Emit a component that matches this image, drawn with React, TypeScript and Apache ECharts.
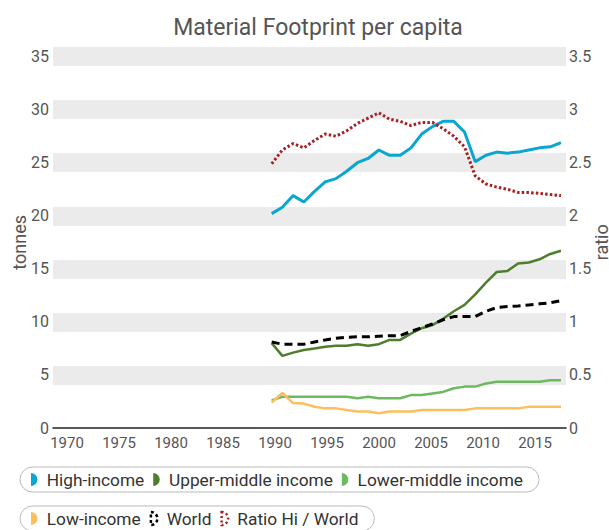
import React, { useEffect, useRef } from 'react';
import * as echarts from 'echarts';

const years = [1990, 1991, 1992, 1993, 1994, 1995, 1996, 1997, 1998, 1999, 2000, 2001, 2002, 2003, 2004, 2005, 2006, 2007, 2008, 2009, 2010, 2011, 2012, 2013, 2014, 2015, 2016, 2017];

const highIncome = [20.2, 20.8, 21.9, 21.3, 22.3, 23.2, 23.5, 24.2, 25.0, 25.4, 26.2, 25.7, 25.7, 26.4, 27.7, 28.4, 28.9, 28.9, 27.9, 25.1, 25.7, 26.0, 25.9, 26.0, 26.2, 26.4, 26.5, 26.9];
const upperMiddle = [8.0, 6.8, 7.1, 7.35, 7.5, 7.65, 7.75, 7.75, 7.9, 7.75, 7.9, 8.3, 8.3, 8.9, 9.4, 9.7, 10.3, 11.0, 11.6, 12.6, 13.7, 14.7, 14.8, 15.5, 15.6, 15.9, 16.4, 16.7];
const lowerMiddle = [2.6, 2.95, 2.95, 2.95, 2.95, 2.95, 2.95, 2.95, 2.8, 2.95, 2.8, 2.8, 2.8, 3.1, 3.1, 3.25, 3.4, 3.75, 3.9, 3.9, 4.2, 4.35, 4.35, 4.35, 4.35, 4.35, 4.5, 4.5];
const lowIncome = [2.4, 3.3, 2.35, 2.3, 2.0, 1.85, 1.85, 1.7, 1.55, 1.55, 1.4, 1.55, 1.55, 1.55, 1.7, 1.7, 1.7, 1.7, 1.7, 1.85, 1.85, 1.85, 1.85, 1.85, 2.0, 2.0, 2.0, 2.0];
const world = [8.1, 7.9, 7.9, 7.9, 8.1, 8.3, 8.45, 8.55, 8.6, 8.6, 8.65, 8.7, 8.7, 9.1, 9.45, 9.8, 10.2, 10.5, 10.5, 10.5, 11.0, 11.35, 11.45, 11.5, 11.6, 11.7, 11.8, 12.0];
const ratioHiWorld = [2.49, 2.62, 2.68, 2.64, 2.71, 2.77, 2.75, 2.8, 2.87, 2.92, 2.97, 2.91, 2.89, 2.85, 2.88, 2.88, 2.82, 2.75, 2.65, 2.375, 2.3, 2.27, 2.25, 2.22, 2.22, 2.21, 2.2, 2.19];

const seriesNames = ['High-income', 'Upper-middle income', 'Lower-middle income', 'Low-income', 'World', 'Ratio Hi / World'];

const FONT = 'Roboto';
const halfDisc = 'path://M0,0 A10,10 0 0 1 0,20 Z';

export default function App() {
  const ref = useRef<HTMLDivElement>(null);

  useEffect(() => {
    if (!ref.current) return;
    const chart = echarts.init(ref.current, null, { renderer: 'svg' });
    const pair = (vals: number[]) => years.map((y, i) => [y, vals[i]]);

    const colors = {
      high: '#0aa6d3',
      upper: '#4c7e2c',
      lower: '#6cb960',
      low: '#fcbf5c',
      world: '#000000',
      ratio: '#a62121',
    };

    const legendCommon = {
      left: 20,
      orient: 'horizontal',
      itemWidth: 7,
      itemHeight: 13,
      itemGap: 9,
      icon: halfDisc,
      borderColor: '#bbbbbb',
      borderWidth: 1,
      borderRadius: 14,
      padding: [4, 16, 4, 11],
      selectedMode: false,
      textStyle: { fontSize: 17.3, color: '#333', fontFamily: FONT, padding: [0, 0, 0, 4] },
    };

    const option: any = {
      animation: false,
      backgroundColor: '#ffffff',
      title: {
        text: 'Material Footprint per capita',
        left: 313,
        textAlign: 'center',
        top: 11,
        textStyle: { fontSize: 23, fontWeight: 'normal', color: '#555', fontFamily: FONT },
      },
      grid: { left: 53, right: 43, top: 56.6, bottom: 102, containLabel: false, outerBoundsMode: 'none' },
      legend: [
        {
          ...legendCommon,
          top: 467,
          data: [
            { name: seriesNames[0], itemStyle: { color: colors.high } },
            { name: seriesNames[1], itemStyle: { color: colors.upper } },
            { name: seriesNames[2], itemStyle: { color: colors.lower } },
          ],
        },
        {
          ...legendCommon,
          top: 506,
          data: [
            { name: seriesNames[3], itemStyle: { color: colors.low } },
            {
              name: seriesNames[4],
              itemStyle: { color: 'rgba(0,0,0,0)', borderColor: colors.world, borderWidth: 2.5, borderType: [3, 2.5] },
            },
            {
              name: seriesNames[5],
              itemStyle: { color: 'rgba(0,0,0,0)', borderColor: colors.ratio, borderWidth: 2.5, borderType: [2, 2.5] },
            },
          ],
        },
      ],
      xAxis: [
        {
          type: 'value',
          min: 1969.59,
          max: 2017.47,
          show: false,
          position: 'top',
        },
        {
          type: 'value',
          min: 1968.65,
          max: 2017.98,
          position: 'bottom',
          splitNumber: 10,
          minInterval: 5,
          maxInterval: 5,
          axisLine: { show: true, onZero: false, lineStyle: { color: '#222', width: 1.6 } },
          axisTick: { show: false },
          splitLine: { show: false },
          axisLabel: {
            margin: 7,
            fontSize: 15,
            color: '#555',
            fontFamily: FONT,
            showMinLabel: true,
            showMaxLabel: true,
            formatter: (v: number) => {
              const r = Math.round(v);
              return Math.abs(v - r) < 1e-6 && r % 5 === 0 ? String(r) : '';
            },
          },
        },
      ],
      yAxis: [
        {
          type: 'value',
          min: 0,
          max: 35,
          interval: 5,
          position: 'left',
          name: 'tonnes',
          nameLocation: 'middle',
          nameRotate: 90,
          nameGap: 25,
          nameMoveOverlap: false,
          nameTextStyle: { fontSize: 18, color: '#555', fontFamily: FONT },
          axisLine: { show: false },
          axisTick: { show: false },
          axisLabel: { margin: 4, fontSize: 16, color: '#555', fontFamily: FONT },
          splitLine: { show: true, showMinLine: false, lineStyle: { color: '#ebebeb', width: 19 } },
        },
        {
          type: 'value',
          min: 0,
          max: 3.5,
          interval: 0.5,
          position: 'right',
          name: 'ratio',
          nameLocation: 'middle',
          nameRotate: 90,
          nameGap: 26,
          nameMoveOverlap: false,
          nameTextStyle: { fontSize: 18, color: '#555', fontFamily: FONT },
          axisLine: { show: false },
          axisTick: { show: false },
          axisLabel: { margin: 3, fontSize: 16, color: '#555', fontFamily: FONT },
          splitLine: { show: false },
        },
      ],
      series: [
        {
          name: seriesNames[0], type: 'line', xAxisIndex: 0, yAxisIndex: 0, symbol: 'none',
          data: pair(highIncome), itemStyle: { color: colors.high },
          lineStyle: { color: colors.high, width: 3 },
        },
        {
          name: seriesNames[1], type: 'line', xAxisIndex: 0, yAxisIndex: 0, symbol: 'none',
          data: pair(upperMiddle), itemStyle: { color: colors.upper },
          lineStyle: { color: colors.upper, width: 2.5 },
        },
        {
          name: seriesNames[2], type: 'line', xAxisIndex: 0, yAxisIndex: 0, symbol: 'none',
          data: pair(lowerMiddle), itemStyle: { color: colors.lower },
          lineStyle: { color: colors.lower, width: 2.5 },
        },
        {
          name: seriesNames[3], type: 'line', xAxisIndex: 0, yAxisIndex: 0, symbol: 'none',
          data: pair(lowIncome), itemStyle: { color: colors.low },
          lineStyle: { color: colors.low, width: 2.5 },
        },
        {
          name: seriesNames[4], type: 'line', xAxisIndex: 0, yAxisIndex: 0, symbol: 'none',
          data: pair(world), itemStyle: { color: colors.world },
          lineStyle: { color: colors.world, width: 3, type: [8, 5] },
        },
        {
          name: seriesNames[5], type: 'line', xAxisIndex: 0, yAxisIndex: 1, symbol: 'none',
          data: pair(ratioHiWorld), itemStyle: { color: colors.ratio },
          lineStyle: { color: colors.ratio, width: 3, type: [2.5, 2.2] },
        },
      ],
    };

    chart.setOption(option);
    return () => chart.dispose();
  }, []);

  return (
    <div
      ref={ref}
      style={{ position: 'fixed', left: 0, top: 0, width: 609, height: 530, background: '#fff' }}
    />
  );
}
